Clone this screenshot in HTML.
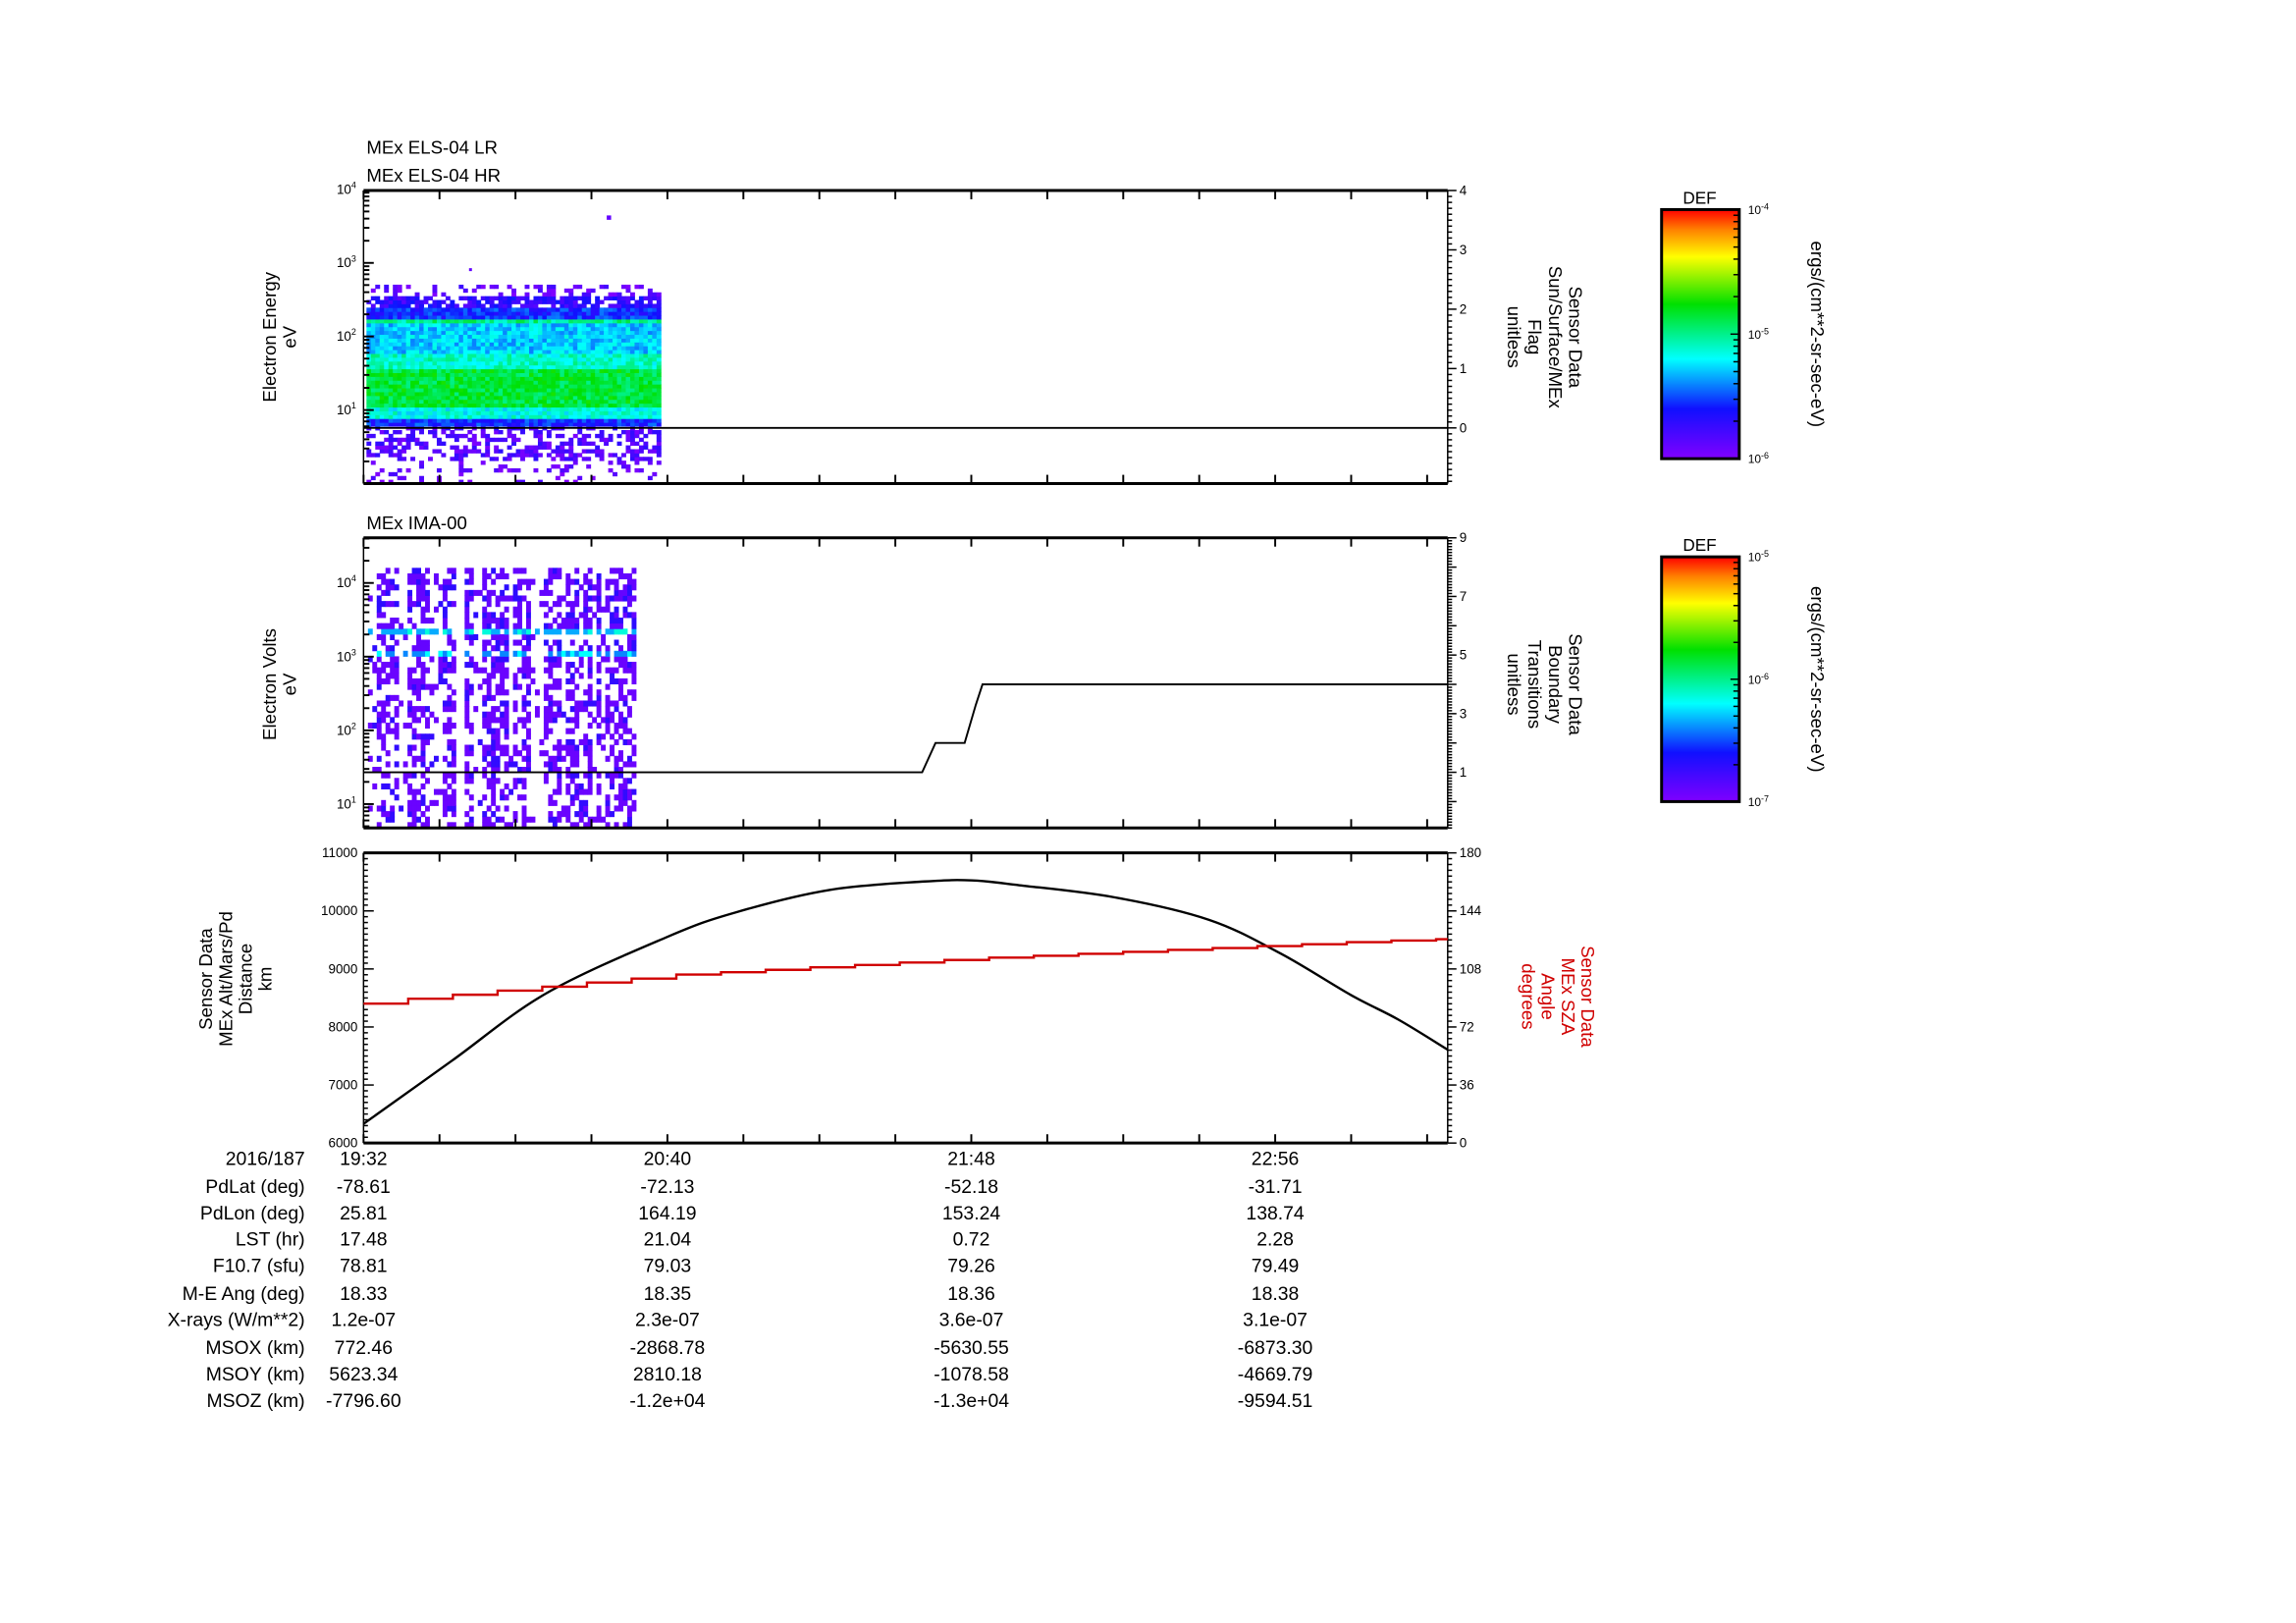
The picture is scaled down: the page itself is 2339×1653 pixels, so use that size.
<!DOCTYPE html>
<html><head><meta charset="utf-8"><title>MEx ELS / IMA summary</title>
<style>
html,body{margin:0;padding:0;background:#fff;}
svg{display:block;font-family:"Liberation Sans",sans-serif;}
</style></head>
<body>
<svg id="chart" width="2339" height="1653" viewBox="0 0 1552 1097" xmlns="http://www.w3.org/2000/svg">
<defs>
<linearGradient id="rainbow" x1="0" y1="1" x2="0" y2="0">
<stop offset="0" stop-color="#8000ff"/><stop offset="0.2" stop-color="#1010ff"/><stop offset="0.4" stop-color="#00ffff"/><stop offset="0.62" stop-color="#00e000"/><stop offset="0.81" stop-color="#ffff00"/><stop offset="0.92" stop-color="#ff8000"/><stop offset="1" stop-color="#ff0000"/>
</linearGradient>
</defs>
<g transform="scale(0.9905)">
<g id="g1"></g>
<g id="g2"></g>
<g id="g3"></g>
<g id="gt"></g>
<g id="gc"></g>
</g>
</svg>
<script>
// ---- data ----
const timeLabels = ["19:32","20:40","21:48","22:56"];
const timeLabelMinutes = [0,68,136,204];
const altTimes = [0,19.7,40.9,68,83.3,104.4,125.6,136.2,146.8,168,189.2,205.3,221,231.6,242.6];
const altValues = [6331,7414,8581,9554,9975,10364,10507,10526,10442,10235,9846,9262,8549,8127,7608];
const szaTimes = [0,10,20,30,40,50,60,70,80,90,100,110,120,130,140,150,160,170,180,190,200,210,220,230,240];
const szaValues = [86.5,89.5,92,94.5,97,99.5,102,104.5,106,107.5,109,110.5,112,113.5,115,116.2,117.4,118.6,119.8,121,122.2,123.4,124.6,125.6,126.5];
const flagTimes = [0,66];
const flagValues = [0,0];
const boundTimes = [0,125,128,133,134.5,137,138.5,242.6];
const boundValues = [1,1,2,2,2,3.3,4,4];
// spectrogram band profiles (log10 eV edges, colour level 0..1, fill fraction)
const elsEdges = [0,0.3,0.75,0.85,1.0,1.55,1.75,2.15,2.2,2.35,2.5,2.68];
const elsLevel = [0.04,0.08,0.22,0.42,0.57,0.45,0.36,0.5,0.22,0.14,0.05];
const elsFill = [0.22,0.45,1,1,1,1,1,1,1,0.8,0.3];
const elsEnd = 66;
const imaEdges = [0.68,1.3,2.95,3.05,3.25,3.35,4.2];
const imaLevel = [0.04,0.04,0.3,0.05,0.33,0.05];
const imaFill = [0.5,0.55,0.75,0.55,0.75,0.55];
const imaEnd = 60;
const rowLabels = ["PdLat (deg)","PdLon (deg)","LST (hr)","F10.7 (sfu)","M-E Ang (deg)","X-rays (W/m**2)","MSOX (km)","MSOY (km)","MSOZ (km)"];
const rowVals = [
 ["-78.61","-72.13","-52.18","-31.71"],
 ["25.81","164.19","153.24","138.74"],
 ["17.48","21.04","0.72","2.28"],
 ["78.81","79.03","79.26","79.49"],
 ["18.33","18.35","18.36","18.38"],
 ["1.2e-07","2.3e-07","3.6e-07","3.1e-07"],
 ["772.46","-2868.78","-5630.55","-6873.30"],
 ["5623.34","2810.18","-1078.58","-4669.79"],
 ["-7796.60","-1.2e+04","-1.3e+04","-9594.51"]];

// ---- helpers ----
const NS="http://www.w3.org/2000/svg";
function mk(parent,tag,attrs,txt){const e=document.createElementNS(NS,tag);for(const k in attrs)e.setAttribute(k,attrs[k]);if(txt!==undefined)e.textContent=txt;parent.appendChild(e);return e;}
const X0=248,X1=988,PXM=(X1-X0)/242.6;
function xOf(m){return X0+m*PXM;}
function cmap(v){v=Math.max(0,Math.min(1,v));
 const s=[[0,128,0,255],[0.2,16,16,255],[0.4,0,255,255],[0.62,0,224,0],[0.81,255,255,0],[0.92,255,128,0],[1,255,0,0]];
 for(let i=1;i<s.length;i++){if(v<=s[i][0]){const a=s[i-1],b=s[i],t=(v-a[0])/(b[0]-a[0]);return `rgb(${Math.round(a[1]+t*(b[1]-a[1]))},${Math.round(a[2]+t*(b[2]-a[2]))},${Math.round(a[3]+t*(b[3]-a[3]))})`;}}
 return "red";}
function hsh(i,j){let h=(i*73856093)^(j*19349663)^((i+j)*83492791);h=(h^(h>>>13))*1274126177;h=h^(h>>>16);return ((h>>>0)%10000)/10000;}

function frame(g,top,bot){
 mk(g,"line",{x1:X0,y1:top,x2:X1,y2:top,stroke:"#000","stroke-width":2});
 mk(g,"line",{x1:X0,y1:bot,x2:X1,y2:bot,stroke:"#000","stroke-width":2});
 mk(g,"line",{x1:X0,y1:top,x2:X0,y2:bot,stroke:"#000","stroke-width":1});
 mk(g,"line",{x1:X1,y1:top,x2:X1,y2:bot,stroke:"#000","stroke-width":1});
 for(let m=0;m<=242;m+=17){const x=xOf(m);
  mk(g,"line",{x1:x,y1:top,x2:x,y2:top+6,stroke:"#000","stroke-width":1.3});
  mk(g,"line",{x1:x,y1:bot,x2:x,y2:bot-6,stroke:"#000","stroke-width":1.3});}
}
function logAxis(g,top,bot,y0,ppd,dmin,dmax){
 for(let d=dmin;d<=dmax;d++){for(let k=1;k<10;k++){const y=y0-ppd*(d+Math.log10(k));if(y<top-0.5||y>bot+0.5)continue;
  mk(g,"line",{x1:X0,y1:y,x2:X0+(k===1?7:4),y2:y,stroke:"#000","stroke-width":1.3});}
  const y=y0-ppd*d; if(y>=top-1&&y<=bot-5){const t=mk(g,"text",{x:X0-5,y:y+3,"font-size":9,"text-anchor":"end"},"10");mk(t,"tspan",{dy:-4,"font-size":6},String(d));}}
}
function linAxis(g,top,bot,y0,ppu,vmin,vmax,labels){
 for(let v=Math.ceil(vmin*10)/10;v<=vmax+1e-6;v=Math.round((v+0.1)*10)/10){const y=y0-ppu*v;
  mk(g,"line",{x1:X1,y1:y,x2:X1+(Math.abs(v-Math.round(v))<1e-6?6:3),y2:y,stroke:"#000","stroke-width":1});}
 labels.forEach(v=>{const y=y0-ppu*v;mk(g,"text",{x:X1+8,y:y+3,"font-size":9},String(v));});
}
function vtext(g,lines,cx,cy,dir,color,gap,name){
 const grp=mk(g,"g",{transform:`translate(${cx},${cy}) rotate(${dir})`});
 
 
 const n=lines.length;
 lines.forEach((s,i)=>{mk(grp,"text",{x:0,y:(i-(n-1)/2)*gap+4,"text-anchor":"middle","font-size":12.5,fill:color},s);});
}
function smoothPath(px,py){
 let d="M"+px[0].toFixed(1)+" "+py[0].toFixed(1);
 for(let i=0;i<px.length-1;i++){
  const p0=Math.max(0,i-1),p3=Math.min(px.length-1,i+2);
  const c1x=px[i]+(px[i+1]-px[p0])/6,c1y=py[i]+(py[i+1]-py[p0])/6;
  const c2x=px[i+1]-(px[p3]-px[i])/6,c2y=py[i+1]-(py[p3]-py[i])/6;
  d+=` C${c1x.toFixed(1)} ${c1y.toFixed(1)} ${c2x.toFixed(1)} ${c2y.toFixed(1)} ${px[i+1].toFixed(1)} ${py[i+1].toFixed(1)}`;}
 return d;}

// ---- panel 1: ELS ----
const g1=document.getElementById("g1");
mk(g1,"text",{x:250,y:105,"font-size":12.5},"MEx ELS-04 LR");
mk(g1,"text",{x:250,y:124,"font-size":12.5},"MEx ELS-04 HR");
(function(){const y0=330,ppd=50.2,cw=3,eb=0.052;
 const nT=Math.floor((xOf(elsEnd)-X0)/cw);
 for(let i=0;i<nT;i++){for(let le=0;le<2.68;le+=eb){
  let b=0;while(b<elsEdges.length-2&&le>=elsEdges[b+1])b++;
  const j=Math.round(le/eb);
  if(hsh(i,j)>elsFill[b])continue;
  const lv=elsLevel[b]+(hsh(j,i+7)-0.5)*0.14;
  const r=mk(g1,"rect",{x:X0+2+i*cw,y:y0-ppd*(le+eb),width:cw+0.3,height:ppd*eb+0.3,fill:cmap(lv)});
  
  }}
 mk(g1,"rect",{x:414,y:147,width:3,height:3,fill:cmap(0.05)});
 mk(g1,"rect",{x:320,y:183,width:2,height:2,fill:cmap(0.05)});
})();
frame(g1,130,330);
logAxis(g1,130,330,330,50.2,0,4);
linAxis(g1,130,330,292,40.5,-0.9,4,[0,1,2,3,4]);
(function(){const y0=292,ppu=40.5;
 const p=mk(g1,"line",{x1:X0,y1:y0-ppu*flagValues[0],x2:X1,y2:y0-ppu*flagValues[1],stroke:"#000","stroke-width":1.3});
 })();
vtext(g1,["Electron Energy","eV"],191,230,-90,"#000",14,"els-y-axis-title");
vtext(g1,["Sensor Data","Sun/Surface/MEx","Flag","unitless"],1054,230,90,"#000",14,"els-right-axis-title");

// ---- panel 2: IMA ----
const g2=document.getElementById("g2");
mk(g2,"text",{x:250,y:361,"font-size":12.5},"MEx IMA-00");
(function(){const y0=599,ppd=50.3,cw=3,eb=0.075;
 const nT=Math.floor((xOf(imaEnd)-X0)/cw);
 for(let i=0;i<nT;i++){const x=X0+3+i*cw; if(x>309&&x<315)continue;
  const colFill=hsh(i,999)<0.2?0.25:1;
  for(let le=0.68;le<4.2;le+=eb){
  let b=0;while(b<imaEdges.length-2&&le>=imaEdges[b+1])b++;
  const j=Math.round(le/eb);
  if(hsh(i+50,j)>imaFill[b]*colFill)continue;
  const lv=imaLevel[b]+(hsh(j+3,i)>0.8?0.1:0);
  const r=mk(g2,"rect",{x:x,y:y0-ppd*(le+eb),width:cw+0.3,height:ppd*eb+0.3,fill:cmap(lv)});
  
  }}
})();
frame(g2,367,565);
logAxis(g2,367,565,599,50.3,0,4);
linAxis(g2,367,565,547,20,-0.9,9,[1,3,5,7,9]);
(function(){const y0=547,ppu=20;
 const d=boundTimes.map((t,i)=>(i?"L":"M")+xOf(t).toFixed(1)+" "+(y0-ppu*boundValues[i]).toFixed(1)).join(" ");
 const p=mk(g2,"path",{d:d,fill:"none",stroke:"#000","stroke-width":1.3});
 })();
vtext(g2,["Electron Volts","eV"],191,467,-90,"#000",14,"ima-y-axis-title");
vtext(g2,["Sensor Data","Boundary","Transitions","unitless"],1054,467,90,"#000",14,"ima-right-axis-title");

// ---- panel 3: altitude / SZA ----
const g3=document.getElementById("g3");
const T3=582,B3=780;
function yAlt(v){return B3-(v-6000)/5000*(B3-T3);}
function ySza(v){return B3-v/180*(B3-T3);}
frame(g3,T3,B3);
for(let v=6000;v<=11000;v+=100){const y=yAlt(v);mk(g3,"line",{x1:X0,y1:y,x2:X0+(v%1000===0?7:3),y2:y,stroke:"#000","stroke-width":1});
 if(v%1000===0)mk(g3,"text",{x:X0-4,y:y+3,"font-size":9,"text-anchor":"end"},String(v));}
for(let v=0;v<=180;v+=3.6){const y=ySza(v);const maj=Math.abs(v/36-Math.round(v/36))<1e-6;
 mk(g3,"line",{x1:X1,y1:y,x2:X1+(maj?6:3),y2:y,stroke:"#000","stroke-width":1});
 if(maj)mk(g3,"text",{x:X1+8,y:y+3,"font-size":9},String(Math.round(v)));}
(function(){
 const d=smoothPath(altTimes.map(xOf),altValues.map(yAlt));
 const p=mk(g3,"path",{d:d,fill:"none",stroke:"#000","stroke-width":1.6,"stroke-linejoin":"round"});
 
 let s="";szaTimes.forEach((t,i)=>{const x0=xOf(t),x1=xOf(Math.min(t+10,242.6)),y=ySza(szaValues[i]);s+=(i?"L":"M")+x0.toFixed(1)+" "+y.toFixed(1)+" L"+x1.toFixed(1)+" "+y.toFixed(1)+" ";});
 const q=mk(g3,"path",{d:s,fill:"none",stroke:"#d00000","stroke-width":1.6});
 
})();
vtext(g3,["Sensor Data","MEx Alt/Mars/Pd","Distance","km"],161,668,-90,"#000",13.5,"altitude-y-axis-title");
vtext(g3,["Sensor Data","MEx SZA","Angle","degrees"],1063,680,90,"#d00000",13.5,"sza-y-axis-title");

// ---- table ----
const gt=document.getElementById("gt");
mk(gt,"text",{x:208,y:795,"font-size":13,"text-anchor":"end"},"2016/187");
timeLabels.forEach((s,i)=>{const t=mk(gt,"text",{x:xOf(timeLabelMinutes[i]),y:795,"font-size":13,"text-anchor":"middle"},s);});
const rowY=[814,832,850,868,887,905,924,942,960];
rowLabels.forEach((l,r)=>{mk(gt,"text",{x:208,y:rowY[r],"font-size":13,"text-anchor":"end"},l);
 rowVals[r].forEach((v,i)=>{mk(gt,"text",{x:xOf(timeLabelMinutes[i]),y:rowY[r],"font-size":13,"text-anchor":"middle"},v);});});

// ---- colorbars ----
const gc=document.getElementById("gc");
function cbar(top,bot,exps){
 mk(gc,"text",{x:1160,y:top-4,"font-size":11.5,"text-anchor":"middle"},"DEF");
 mk(gc,"rect",{x:1134,y:top,width:53,height:bot-top,fill:"url(#rainbow)",stroke:"#000","stroke-width":2});
 const h=bot-top;
 for(let d=0;d<2;d++)for(let k=1;k<10;k++){const y=bot-h/2*(d+Math.log10(k));mk(gc,"line",{x1:1187,y1:y,x2:1183-(k===1?2:0),y2:y,stroke:"#000","stroke-width":1});}
 exps.forEach((e,i)=>{const y=bot-h/2*i;const t=mk(gc,"text",{x:1193,y:y+3,"font-size":8},"10");mk(t,"tspan",{dy:-3,"font-size":6},e);});
 vtext(gc,["ergs/(cm**2-sr-sec-eV)"],1240,(top+bot)/2,90,"#000",12,"colorbar-units");
}
cbar(143,313,["-6","-5","-4"]);
cbar(380,547,["-7","-6","-5"]);
</script>
</body></html>
